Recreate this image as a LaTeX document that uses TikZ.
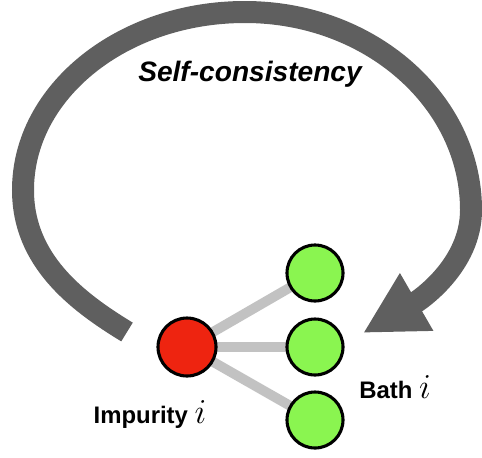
\documentclass[tikz,border=0pt]{standalone}
\usepackage{fontspec}
\setsansfont{Liberation Sans}
\usepackage{tikz}
\usetikzlibrary{arrows.meta,backgrounds}
\definecolor{loopgray}{HTML}{5F5F5F}
\definecolor{hyb}{HTML}{C2C2C2}
\definecolor{impred}{HTML}{EE2410}
\definecolor{bathgreen}{HTML}{8AF550}

\begin{document}
\begin{tikzpicture}[
  site/.style={circle,draw=black,line width=2.2pt,fill=#1,minimum size=1.4cm,inner sep=0pt},
  lbl/.style={font=\sffamily\bfseries\fontsize{17}{20}\selectfont,inner sep=0pt,anchor=base},
  link/.style={draw=hyb,line width=7pt},
]
  \useasboundingbox (0,0) rectangle (12.05,-11.425);

  % self-consistency loop
  \draw[draw=loopgray,fill=none,line width=0.55cm,-{Triangle[length=1.55cm,width=1.55cm,fill=loopgray]}]
    (3.175,-8.3) .. controls (1.9,-7.525) and (0.575,-6.5) .. (0.575,-4.75)
    .. controls (0.575,-2.3) and (3.05,-0.3) .. (6.125,-0.3)
    .. controls (9.25,-0.3) and (11.775,-2.525) .. (11.775,-5.25)
    .. controls (11.775,-6.625) and (10.5,-7.5) .. (9.075,-8.325);
  \node[lbl,font=\sffamily\bfseries\itshape\fontsize{20}{24}\selectfont] (sc) at (6.25,-2.025) {Self-consistency};

  % impurity and bath sites
  \node[site=impred,minimum size=1.45cm] (imp) at (4.675,-8.675) {};
  \node[site=bathgreen] (b1) at (7.875,-6.825) {};
  \node[site=bathgreen] (b2) at (7.875,-8.675) {};
  \node[site=bathgreen] (b3) at (7.875,-10.5) {};
  \begin{scope}[on background layer]
    \foreach \b in {b1,b2,b3}
      \draw[link] (imp.center) -- (\b.center);
  \end{scope}

  \node[lbl] (implbl) at (3.75,-10.575) {Impurity {\fontsize{23}{23}\selectfont$i$}};
  \node[lbl] (bathlbl) at (9.875,-9.95) {Bath {\fontsize{23}{23}\selectfont$i$}};
\end{tikzpicture}
\end{document}
